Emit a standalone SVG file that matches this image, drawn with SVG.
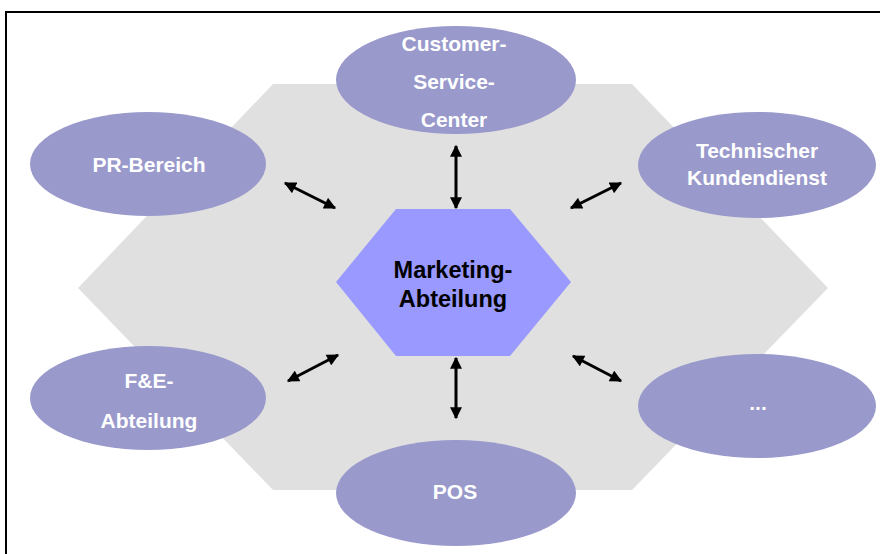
<svg xmlns="http://www.w3.org/2000/svg" width="880" height="554" viewBox="0 0 880 554">
<style>
.ell{fill:#9999cc}
.lbl{font-family:"Liberation Sans",Arial,sans-serif;font-weight:bold;font-size:21px;fill:#ffffff;text-anchor:middle}
.main{font-family:"Liberation Sans",Arial,sans-serif;font-weight:bold;font-size:23.5px;fill:#000000;text-anchor:middle}
.arr{stroke:#000;stroke-width:3;fill:none;marker-start:url(#ah);marker-end:url(#ah)}
</style>
<defs>
<marker id="ah" viewBox="0 0 10 10" refX="9" refY="5" markerWidth="4.4" markerHeight="4" orient="auto-start-reverse" markerUnits="strokeWidth">
<path d="M0,0 L10,5 L0,10 z" fill="#000"/>
</marker>
</defs>
<rect width="880" height="554" fill="#fff"/>
<path d="M6 554 V12 H880" fill="none" stroke="#000" stroke-width="2"/>
<polygon id="bg" points="273,84 632,84 828,288 632,490 273,490 78,288" fill="#e0e0e0"/>
<g id="connectors">
<line class="arr" x1="285" y1="183" x2="335" y2="208"/>
<line class="arr" x1="456" y1="146" x2="456" y2="208"/>
<line class="arr" x1="621" y1="183" x2="571" y2="208"/>
<line class="arr" x1="288" y1="381" x2="338" y2="355"/>
<line class="arr" x1="456" y1="358" x2="456" y2="418"/>
<line class="arr" x1="573" y1="356" x2="621" y2="381"/>
</g>
<g id="marketing">
<polygon points="396,209 510,209 571,282 510,356 396,356 336,282" fill="#9999ff"/>
<text class="main" x="453" y="278">Marketing-</text>
<text class="main" x="453" y="307">Abteilung</text>
</g>
<g id="csc">
<ellipse class="ell" cx="456" cy="80" rx="120" ry="54"/>
<text class="lbl" x="454" y="51">Customer-</text>
<text class="lbl" x="454" y="89">Service-</text>
<text class="lbl" x="454" y="127">Center</text>
</g>
<g id="pr">
<ellipse class="ell" cx="148" cy="164" rx="118" ry="52"/>
<text class="lbl" x="149" y="172">PR-Bereich</text>
</g>
<g id="tech">
<ellipse class="ell" cx="757" cy="165" rx="119" ry="53"/>
<text class="lbl" x="757" y="158">Technischer</text>
<text class="lbl" x="757" y="185">Kundendienst</text>
</g>
<g id="fe">
<ellipse class="ell" cx="148" cy="398" rx="118" ry="52"/>
<text class="lbl" x="149" y="388">F&amp;E-</text>
<text class="lbl" x="149" y="428">Abteilung</text>
</g>
<g id="more">
<ellipse class="ell" cx="757" cy="406" rx="119" ry="52"/>
<text class="lbl" x="758" y="410">...</text>
</g>
<g id="pos">
<ellipse class="ell" cx="456" cy="493" rx="120" ry="53"/>
<text class="lbl" x="455" y="499">POS</text>
</g>
</svg>
